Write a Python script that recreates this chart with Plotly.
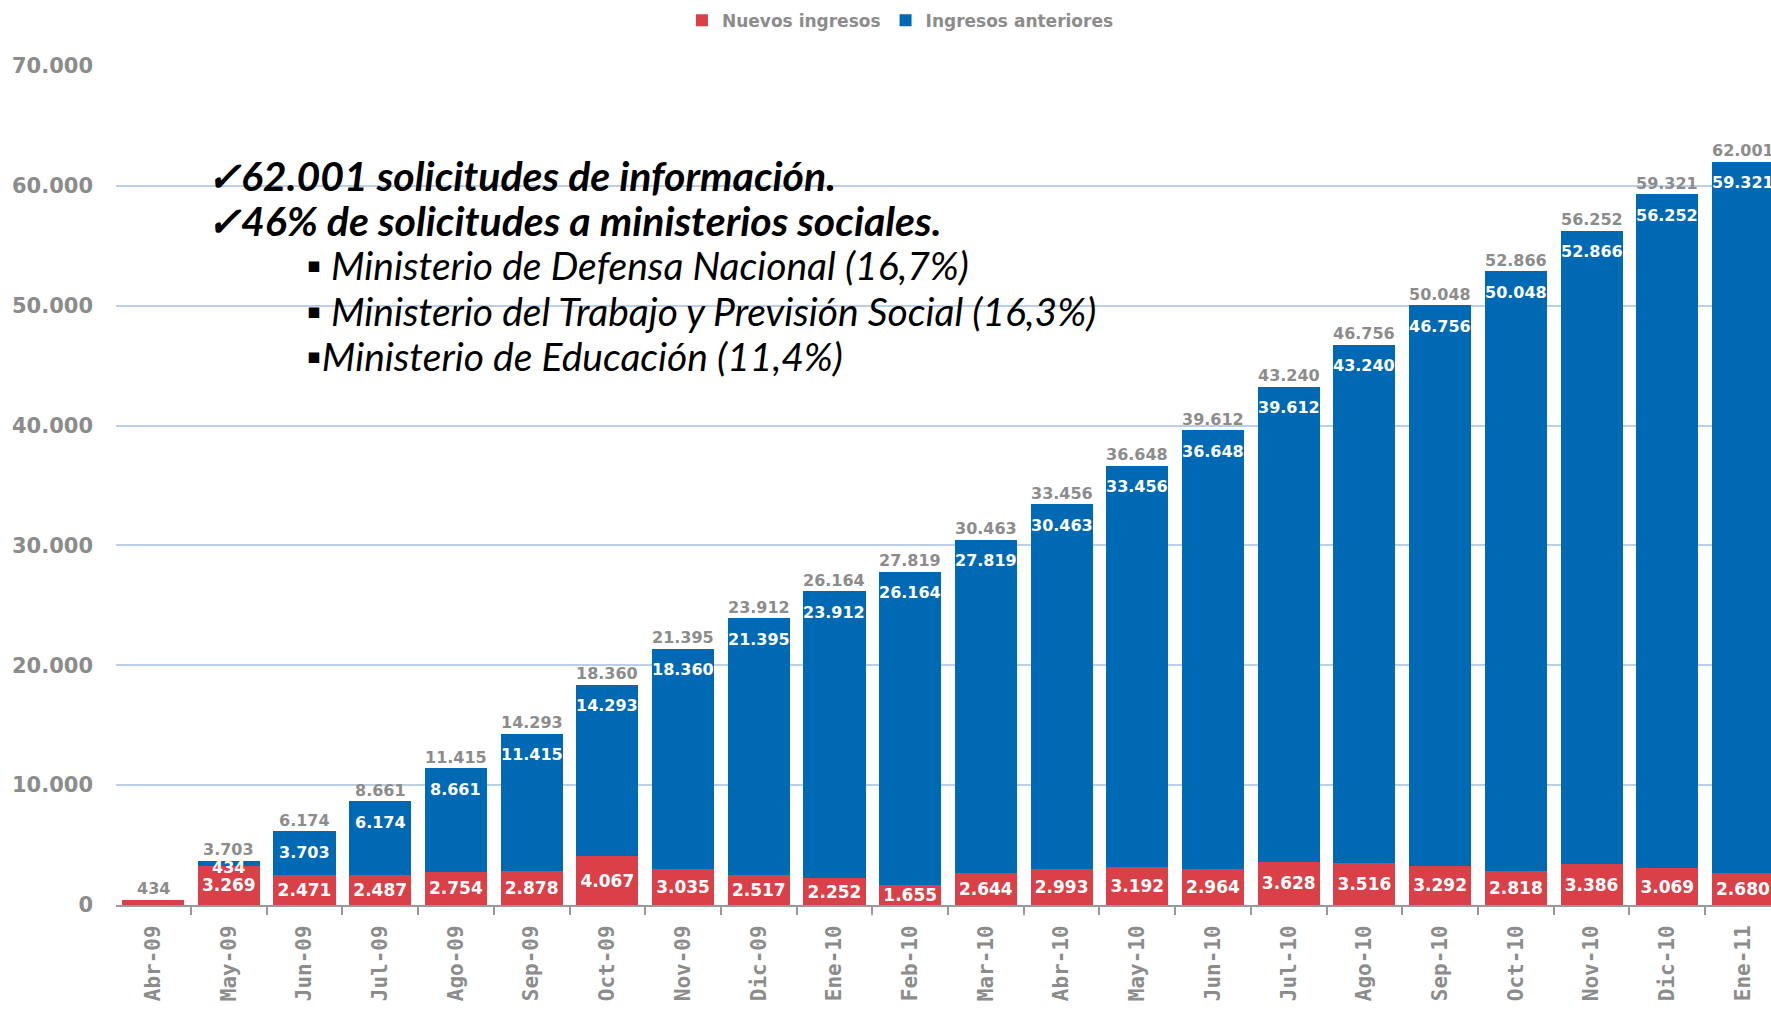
import plotly.graph_objects as go

categories = ["Abr-09", "May-09", "Jun-09", "Jul-09", "Ago-09", "Sep-09", "Oct-09", "Nov-09",
              "Dic-09", "Ene-10", "Feb-10", "Mar-10", "Abr-10", "May-10", "Jun-10", "Jul-10",
              "Ago-10", "Sep-10", "Oct-10", "Nov-10", "Dic-10", "Ene-11"]
nuevos = [434, 3269, 2471, 2487, 2754, 2878, 4067, 3035, 2517, 2252, 1655, 2644,
          2993, 3192, 2964, 3628, 3516, 3292, 2818, 3386, 3069, 2680]
anteriores = [0, 434, 3703, 6174, 8661, 11415, 14293, 18360, 21395, 23912, 26164, 27819,
              30463, 33456, 36648, 39612, 43240, 46756, 50048, 52866, 56252, 59321]
y_ticks = [0, 10000, 20000, 30000, 40000, 50000, 60000, 70000]

notes_bold = ["✓62.001 solicitudes de información.",
              "✓46% de solicitudes a ministerios sociales."]
notes_items = ["▪ Ministerio de Defensa Nacional (16,7%)",
               "▪ Ministerio del Trabajo y Previsión Social (16,3%)",
               "▪Ministerio de Educación (11,4%)"]


def fmt(v):
    return f"{v:,}".replace(",", ".")


totals = [a + b for a, b in zip(nuevos, anteriores)]

RED = "#D94047"
BLUE = "#0069B4"
GRAY = "#8c8c8c"

Y_MAX = 70000
PLOT_H = 839.5

fig = go.Figure()
fig.add_trace(go.Bar(
    x=categories, y=nuevos, name="Nuevos ingresos", marker=dict(color=RED, line=dict(width=0)),
    text=[fmt(v) if v > 1000 else "" for v in nuevos],
    textposition="inside", insidetextanchor="middle", textangle=0, constraintext="none",
    textfont=dict(family="DejaVu Sans", size=17, color="white", weight="bold"),
))
fig.add_trace(go.Bar(
    x=categories, y=anteriores, name="Ingresos anteriores", marker=dict(color=BLUE, line=dict(width=0)),
))

annotations = []
for c, a, t in zip(categories, anteriores, totals):
    annotations.append(dict(x=c, y=t, xref="x", yref="y", text=fmt(t), showarrow=False,
                            yshift=11, font=dict(family="DejaVu Sans", size=16, color=GRAY, weight="bold")))
    if a > 0:
        seg_px = a / Y_MAX * PLOT_H
        shift = -min(21, max(7, seg_px / 2))
        annotations.append(dict(x=c, y=t, xref="x", yref="y", text=fmt(a), showarrow=False,
                                yshift=shift, font=dict(family="DejaVu Sans", size=16, color="white", weight="bold")))

# text block
L, PW = 116, 1655


def px(x):
    return (x - L) / PW


def py(y):
    return (905 - y) / PLOT_H


line_y = [175, 220, 265, 311, 356]
for i, s in enumerate(notes_bold):
    annotations.append(dict(x=px(205), y=py(line_y[i]), xref="paper", yref="paper", xanchor="left",
                            yanchor="middle", showarrow=False, text=f"<b><i>{s}</i></b>",
                            font=dict(family="Lato", size=41, color="black")))
for i, s in enumerate(notes_items):
    annotations.append(dict(x=px(304), y=py(line_y[i + 2]), xref="paper", yref="paper", xanchor="left",
                            yanchor="middle", showarrow=False, text=f"<i>{s}</i>",
                            font=dict(family="Lato", size=39, color="black")))

fig.update_layout(
    width=1771, height=1011,
    margin=dict(l=116, r=0, t=66, b=106),
    barmode="stack", bargap=0.18,
    plot_bgcolor="white", paper_bgcolor="white",
    separators=",.",
    showlegend=True,
    legend=dict(orientation="h", x=0.474, xanchor="center", y=1.054, yanchor="middle",
                font=dict(family="DejaVu Sans", size=17, color=GRAY, weight="bold"),
                traceorder="normal", bgcolor="rgba(0,0,0,0)"),
    annotations=annotations,
)
fig.update_xaxes(
    range=[-0.49, 21.37], type="category", showgrid=False,
    showline=True, linecolor="#9a9a9a", linewidth=2,
    ticks="outside", tickson="boundaries", ticklen=8, tickcolor="#9a9a9a", tickwidth=2,
    tickangle=-90, automargin=False, ticklabelstandoff=10,
    tickfont=dict(family="DejaVu Sans Mono", size=21, color=GRAY, weight="bold"),
)
fig.update_yaxes(
    range=[0, Y_MAX], tickvals=y_ticks, tickformat=",d",
    showgrid=True, gridcolor="#bccfe9", gridwidth=2, zeroline=False, showline=False,
    ticks="", ticklabelstandoff=22, automargin=False,
    tickfont=dict(family="DejaVu Sans", size=21, color=GRAY, weight="bold"),
)

fig.write_html("out.html", config={"displayModeBar": False},
               post_script="document.body.style.margin='0';document.body.style.overflow='hidden';")
